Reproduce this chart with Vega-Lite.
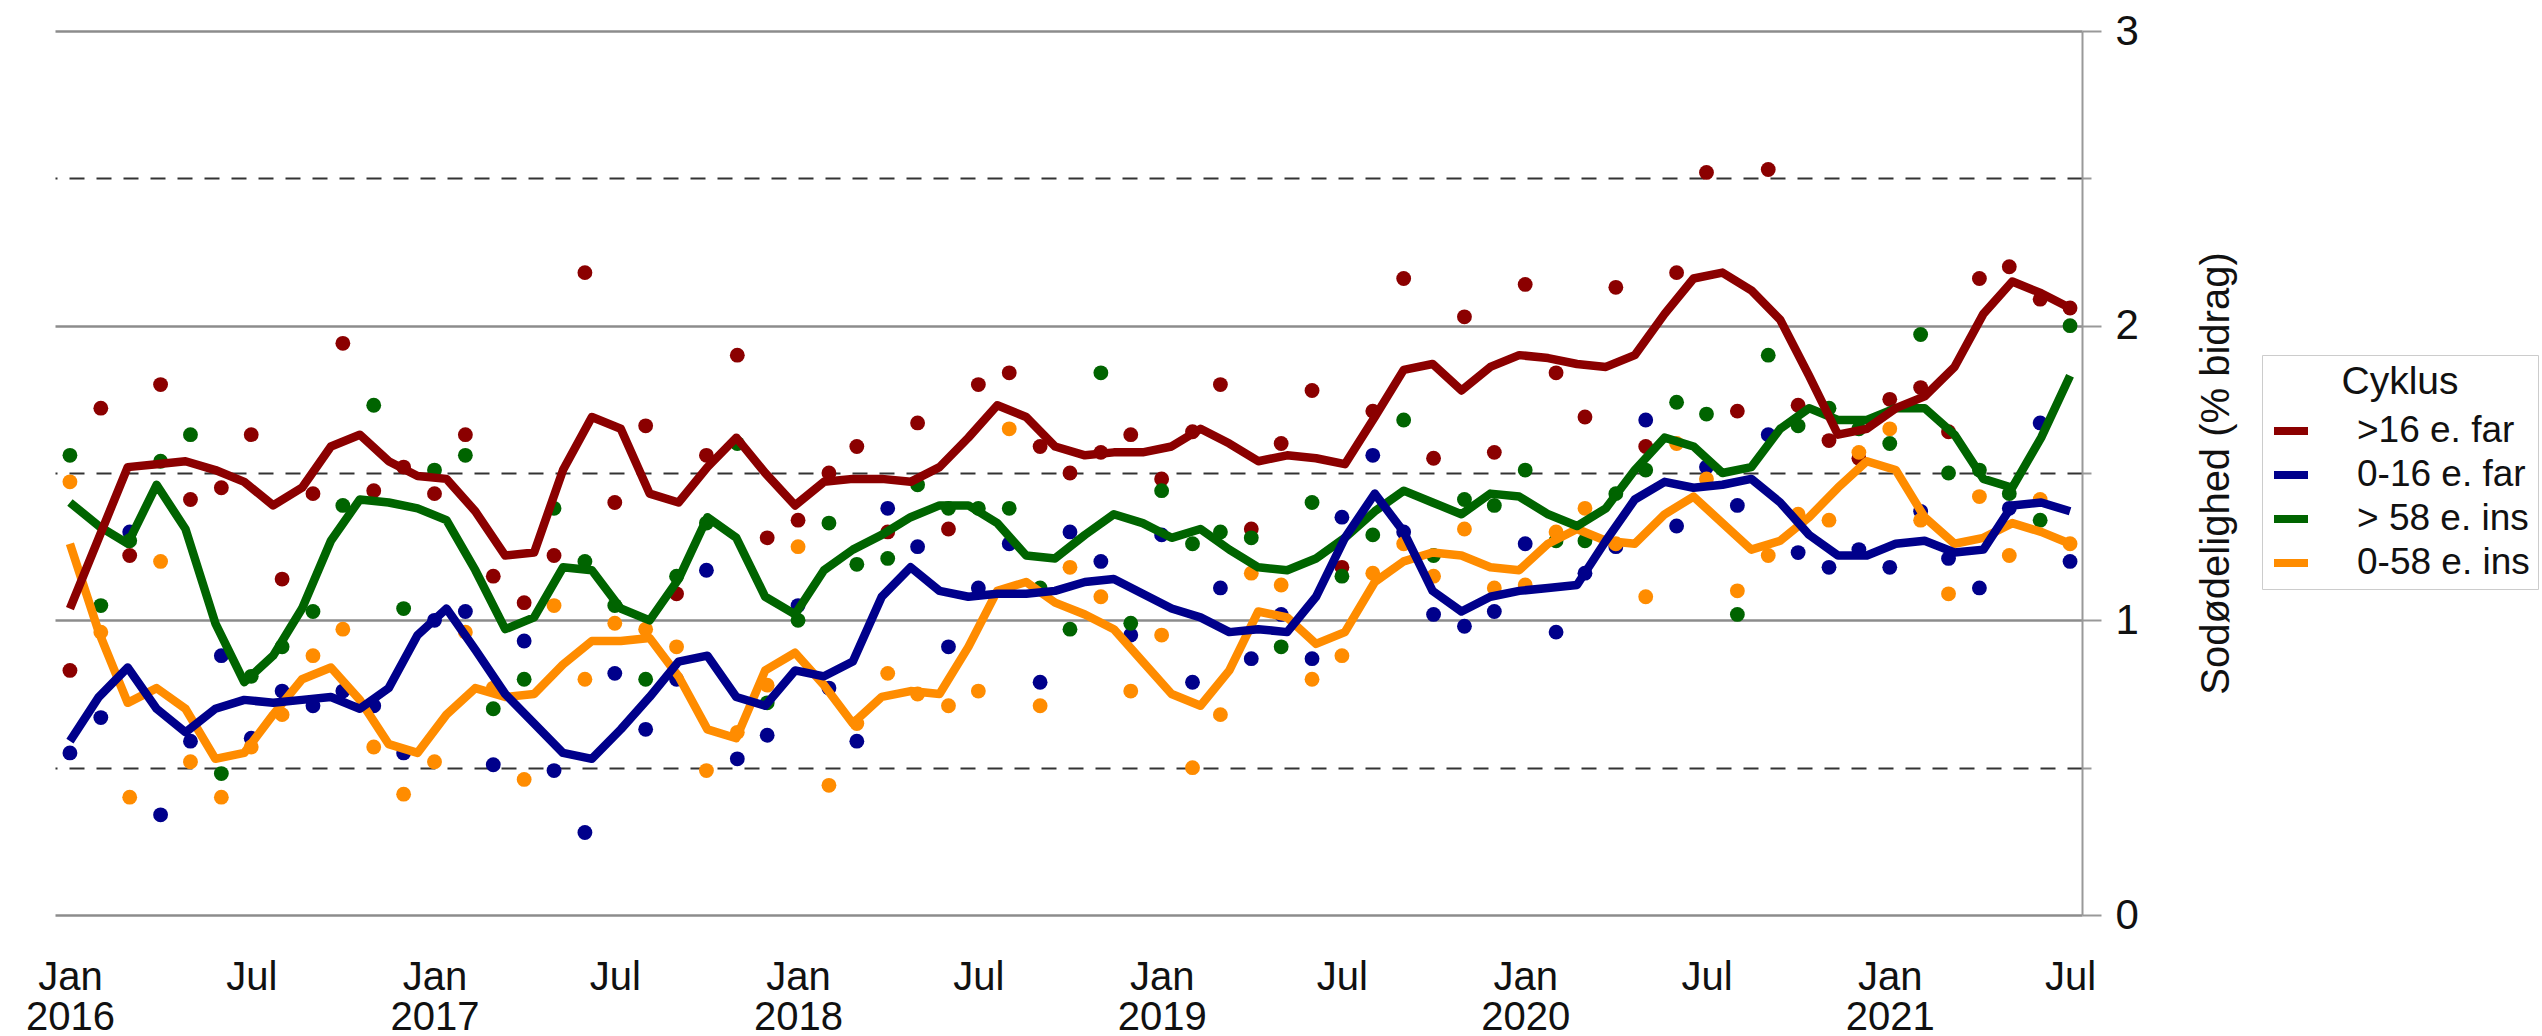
{
"$schema":"https://vega.github.io/schema/vega-lite/v6.json",
"width":2027,"height":884,
"autosize":{"type":"none"},
"padding":{"left":55,"top":31,"right":460,"bottom":121},
"background":"white",
"config":{"view":{"stroke":null},"font":"Liberation Sans"},
"resolve":{"scale":{"color":"independent"}},
"datasets":{
"pts":[
{"d":"2016-01-01","s":">16 e. far","v":0.83},{"d":"2016-02-01","s":">16 e. far","v":1.72},{"d":"2016-03-01","s":">16 e. far","v":1.22},{"d":"2016-04-01","s":">16 e. far","v":1.80},{"d":"2016-05-01","s":">16 e. far","v":1.41},{"d":"2016-06-01","s":">16 e. far","v":1.45},{"d":"2016-07-01","s":">16 e. far","v":1.63},{"d":"2016-08-01","s":">16 e. far","v":1.14},{"d":"2016-09-01","s":">16 e. far","v":1.43},{"d":"2016-10-01","s":">16 e. far","v":1.94},{"d":"2016-11-01","s":">16 e. far","v":1.44},{"d":"2016-12-01","s":">16 e. far","v":1.52},
{"d":"2017-01-01","s":">16 e. far","v":1.43},{"d":"2017-02-01","s":">16 e. far","v":1.63},{"d":"2017-03-01","s":">16 e. far","v":1.15},{"d":"2017-04-01","s":">16 e. far","v":1.06},{"d":"2017-05-01","s":">16 e. far","v":1.22},{"d":"2017-06-01","s":">16 e. far","v":2.18},{"d":"2017-07-01","s":">16 e. far","v":1.40},{"d":"2017-08-01","s":">16 e. far","v":1.66},{"d":"2017-09-01","s":">16 e. far","v":1.09},{"d":"2017-10-01","s":">16 e. far","v":1.56},{"d":"2017-11-01","s":">16 e. far","v":1.90},{"d":"2017-12-01","s":">16 e. far","v":1.28},
{"d":"2018-01-01","s":">16 e. far","v":1.34},{"d":"2018-02-01","s":">16 e. far","v":1.50},{"d":"2018-03-01","s":">16 e. far","v":1.59},{"d":"2018-04-01","s":">16 e. far","v":1.30},{"d":"2018-05-01","s":">16 e. far","v":1.67},{"d":"2018-06-01","s":">16 e. far","v":1.31},{"d":"2018-07-01","s":">16 e. far","v":1.80},{"d":"2018-08-01","s":">16 e. far","v":1.84},{"d":"2018-09-01","s":">16 e. far","v":1.59},{"d":"2018-10-01","s":">16 e. far","v":1.50},{"d":"2018-11-01","s":">16 e. far","v":1.57},{"d":"2018-12-01","s":">16 e. far","v":1.63},
{"d":"2019-01-01","s":">16 e. far","v":1.48},{"d":"2019-02-01","s":">16 e. far","v":1.64},{"d":"2019-03-01","s":">16 e. far","v":1.80},{"d":"2019-04-01","s":">16 e. far","v":1.31},{"d":"2019-05-01","s":">16 e. far","v":1.60},{"d":"2019-06-01","s":">16 e. far","v":1.78},{"d":"2019-07-01","s":">16 e. far","v":1.18},{"d":"2019-08-01","s":">16 e. far","v":1.71},{"d":"2019-09-01","s":">16 e. far","v":2.16},{"d":"2019-10-01","s":">16 e. far","v":1.55},{"d":"2019-11-01","s":">16 e. far","v":2.03},{"d":"2019-12-01","s":">16 e. far","v":1.57},
{"d":"2020-01-01","s":">16 e. far","v":2.14},{"d":"2020-02-01","s":">16 e. far","v":1.84},{"d":"2020-03-01","s":">16 e. far","v":1.69},{"d":"2020-04-01","s":">16 e. far","v":2.13},{"d":"2020-05-01","s":">16 e. far","v":1.59},{"d":"2020-06-01","s":">16 e. far","v":2.18},{"d":"2020-07-01","s":">16 e. far","v":2.52},{"d":"2020-08-01","s":">16 e. far","v":1.71},{"d":"2020-09-01","s":">16 e. far","v":2.53},{"d":"2020-10-01","s":">16 e. far","v":1.73},{"d":"2020-11-01","s":">16 e. far","v":1.61},{"d":"2020-12-01","s":">16 e. far","v":1.55},
{"d":"2021-01-01","s":">16 e. far","v":1.75},{"d":"2021-02-01","s":">16 e. far","v":1.79},{"d":"2021-03-01","s":">16 e. far","v":1.64},{"d":"2021-04-01","s":">16 e. far","v":2.16},{"d":"2021-05-01","s":">16 e. far","v":2.20},{"d":"2021-06-01","s":">16 e. far","v":2.09},{"d":"2021-07-01","s":">16 e. far","v":2.06},

{"d":"2016-01-01","s":"0-16 e. far","v":0.55},{"d":"2016-02-01","s":"0-16 e. far","v":0.67},{"d":"2016-03-01","s":"0-16 e. far","v":1.30},{"d":"2016-04-01","s":"0-16 e. far","v":0.34},{"d":"2016-05-01","s":"0-16 e. far","v":0.59},{"d":"2016-06-01","s":"0-16 e. far","v":0.88},{"d":"2016-07-01","s":"0-16 e. far","v":0.60},{"d":"2016-08-01","s":"0-16 e. far","v":0.76},{"d":"2016-09-01","s":"0-16 e. far","v":0.71},{"d":"2016-10-01","s":"0-16 e. far","v":0.76},{"d":"2016-11-01","s":"0-16 e. far","v":0.71},{"d":"2016-12-01","s":"0-16 e. far","v":0.55},
{"d":"2017-01-01","s":"0-16 e. far","v":1.00},{"d":"2017-02-01","s":"0-16 e. far","v":1.03},{"d":"2017-03-01","s":"0-16 e. far","v":0.51},{"d":"2017-04-01","s":"0-16 e. far","v":0.93},{"d":"2017-05-01","s":"0-16 e. far","v":0.49},{"d":"2017-06-01","s":"0-16 e. far","v":0.28},{"d":"2017-07-01","s":"0-16 e. far","v":0.82},{"d":"2017-08-01","s":"0-16 e. far","v":0.63},{"d":"2017-09-01","s":"0-16 e. far","v":0.80},{"d":"2017-10-01","s":"0-16 e. far","v":1.17},{"d":"2017-11-01","s":"0-16 e. far","v":0.53},{"d":"2017-12-01","s":"0-16 e. far","v":0.61},
{"d":"2018-01-01","s":"0-16 e. far","v":1.05},{"d":"2018-02-01","s":"0-16 e. far","v":0.77},{"d":"2018-03-01","s":"0-16 e. far","v":0.59},{"d":"2018-04-01","s":"0-16 e. far","v":1.38},{"d":"2018-05-01","s":"0-16 e. far","v":1.25},{"d":"2018-06-01","s":"0-16 e. far","v":0.91},{"d":"2018-07-01","s":"0-16 e. far","v":1.11},{"d":"2018-08-01","s":"0-16 e. far","v":1.26},{"d":"2018-09-01","s":"0-16 e. far","v":0.79},{"d":"2018-10-01","s":"0-16 e. far","v":1.30},{"d":"2018-11-01","s":"0-16 e. far","v":1.20},{"d":"2018-12-01","s":"0-16 e. far","v":0.95},
{"d":"2019-01-01","s":"0-16 e. far","v":1.29},{"d":"2019-02-01","s":"0-16 e. far","v":0.79},{"d":"2019-03-01","s":"0-16 e. far","v":1.11},{"d":"2019-04-01","s":"0-16 e. far","v":0.87},{"d":"2019-05-01","s":"0-16 e. far","v":1.02},{"d":"2019-06-01","s":"0-16 e. far","v":0.87},{"d":"2019-07-01","s":"0-16 e. far","v":1.35},{"d":"2019-08-01","s":"0-16 e. far","v":1.56},{"d":"2019-09-01","s":"0-16 e. far","v":1.30},{"d":"2019-10-01","s":"0-16 e. far","v":1.02},{"d":"2019-11-01","s":"0-16 e. far","v":0.98},{"d":"2019-12-01","s":"0-16 e. far","v":1.03},
{"d":"2020-01-01","s":"0-16 e. far","v":1.26},{"d":"2020-02-01","s":"0-16 e. far","v":0.96},{"d":"2020-03-01","s":"0-16 e. far","v":1.16},{"d":"2020-04-01","s":"0-16 e. far","v":1.25},{"d":"2020-05-01","s":"0-16 e. far","v":1.68},{"d":"2020-06-01","s":"0-16 e. far","v":1.32},{"d":"2020-07-01","s":"0-16 e. far","v":1.52},{"d":"2020-08-01","s":"0-16 e. far","v":1.39},{"d":"2020-09-01","s":"0-16 e. far","v":1.63},{"d":"2020-10-01","s":"0-16 e. far","v":1.23},{"d":"2020-11-01","s":"0-16 e. far","v":1.18},{"d":"2020-12-01","s":"0-16 e. far","v":1.24},
{"d":"2021-01-01","s":"0-16 e. far","v":1.18},{"d":"2021-02-01","s":"0-16 e. far","v":1.37},{"d":"2021-03-01","s":"0-16 e. far","v":1.21},{"d":"2021-04-01","s":"0-16 e. far","v":1.11},{"d":"2021-05-01","s":"0-16 e. far","v":1.38},{"d":"2021-06-01","s":"0-16 e. far","v":1.67},{"d":"2021-07-01","s":"0-16 e. far","v":1.20},

{"d":"2016-01-01","s":"> 58 e. ins","v":1.56},{"d":"2016-02-01","s":"> 58 e. ins","v":1.05},{"d":"2016-03-01","s":"> 58 e. ins","v":1.27},{"d":"2016-04-01","s":"> 58 e. ins","v":1.54},{"d":"2016-05-01","s":"> 58 e. ins","v":1.63},{"d":"2016-06-01","s":"> 58 e. ins","v":0.48},{"d":"2016-07-01","s":"> 58 e. ins","v":0.81},{"d":"2016-08-01","s":"> 58 e. ins","v":0.91},{"d":"2016-09-01","s":"> 58 e. ins","v":1.03},{"d":"2016-10-01","s":"> 58 e. ins","v":1.39},{"d":"2016-11-01","s":"> 58 e. ins","v":1.73},{"d":"2016-12-01","s":"> 58 e. ins","v":1.04},
{"d":"2017-01-01","s":"> 58 e. ins","v":1.51},{"d":"2017-02-01","s":"> 58 e. ins","v":1.56},{"d":"2017-03-01","s":"> 58 e. ins","v":0.70},{"d":"2017-04-01","s":"> 58 e. ins","v":0.80},{"d":"2017-05-01","s":"> 58 e. ins","v":1.38},{"d":"2017-06-01","s":"> 58 e. ins","v":1.20},{"d":"2017-07-01","s":"> 58 e. ins","v":1.05},{"d":"2017-08-01","s":"> 58 e. ins","v":0.80},{"d":"2017-09-01","s":"> 58 e. ins","v":1.15},{"d":"2017-10-01","s":"> 58 e. ins","v":1.33},{"d":"2017-11-01","s":"> 58 e. ins","v":1.60},{"d":"2017-12-01","s":"> 58 e. ins","v":0.72},
{"d":"2018-01-01","s":"> 58 e. ins","v":1.00},{"d":"2018-02-01","s":"> 58 e. ins","v":1.33},{"d":"2018-03-01","s":"> 58 e. ins","v":1.19},{"d":"2018-04-01","s":"> 58 e. ins","v":1.21},{"d":"2018-05-01","s":"> 58 e. ins","v":1.46},{"d":"2018-06-01","s":"> 58 e. ins","v":1.38},{"d":"2018-07-01","s":"> 58 e. ins","v":1.38},{"d":"2018-08-01","s":"> 58 e. ins","v":1.38},{"d":"2018-09-01","s":"> 58 e. ins","v":1.11},{"d":"2018-10-01","s":"> 58 e. ins","v":0.97},{"d":"2018-11-01","s":"> 58 e. ins","v":1.84},{"d":"2018-12-01","s":"> 58 e. ins","v":0.99},
{"d":"2019-01-01","s":"> 58 e. ins","v":1.44},{"d":"2019-02-01","s":"> 58 e. ins","v":1.26},{"d":"2019-03-01","s":"> 58 e. ins","v":1.30},{"d":"2019-04-01","s":"> 58 e. ins","v":1.28},{"d":"2019-05-01","s":"> 58 e. ins","v":0.91},{"d":"2019-06-01","s":"> 58 e. ins","v":1.40},{"d":"2019-07-01","s":"> 58 e. ins","v":1.15},{"d":"2019-08-01","s":"> 58 e. ins","v":1.29},{"d":"2019-09-01","s":"> 58 e. ins","v":1.68},{"d":"2019-10-01","s":"> 58 e. ins","v":1.22},{"d":"2019-11-01","s":"> 58 e. ins","v":1.41},{"d":"2019-12-01","s":"> 58 e. ins","v":1.39},
{"d":"2020-01-01","s":"> 58 e. ins","v":1.51},{"d":"2020-02-01","s":"> 58 e. ins","v":1.27},{"d":"2020-03-01","s":"> 58 e. ins","v":1.27},{"d":"2020-04-01","s":"> 58 e. ins","v":1.43},{"d":"2020-05-01","s":"> 58 e. ins","v":1.51},{"d":"2020-06-01","s":"> 58 e. ins","v":1.74},{"d":"2020-07-01","s":"> 58 e. ins","v":1.70},{"d":"2020-08-01","s":"> 58 e. ins","v":1.02},{"d":"2020-09-01","s":"> 58 e. ins","v":1.90},{"d":"2020-10-01","s":"> 58 e. ins","v":1.66},{"d":"2020-11-01","s":"> 58 e. ins","v":1.72},{"d":"2020-12-01","s":"> 58 e. ins","v":1.65},
{"d":"2021-01-01","s":"> 58 e. ins","v":1.60},{"d":"2021-02-01","s":"> 58 e. ins","v":1.97},{"d":"2021-03-01","s":"> 58 e. ins","v":1.50},{"d":"2021-04-01","s":"> 58 e. ins","v":1.51},{"d":"2021-05-01","s":"> 58 e. ins","v":1.43},{"d":"2021-06-01","s":"> 58 e. ins","v":1.34},{"d":"2021-07-01","s":"> 58 e. ins","v":2.00},

{"d":"2016-01-01","s":"0-58 e. ins","v":1.47},{"d":"2016-02-01","s":"0-58 e. ins","v":0.96},{"d":"2016-03-01","s":"0-58 e. ins","v":0.40},{"d":"2016-04-01","s":"0-58 e. ins","v":1.20},{"d":"2016-05-01","s":"0-58 e. ins","v":0.52},{"d":"2016-06-01","s":"0-58 e. ins","v":0.40},{"d":"2016-07-01","s":"0-58 e. ins","v":0.57},{"d":"2016-08-01","s":"0-58 e. ins","v":0.68},{"d":"2016-09-01","s":"0-58 e. ins","v":0.88},{"d":"2016-10-01","s":"0-58 e. ins","v":0.97},{"d":"2016-11-01","s":"0-58 e. ins","v":0.57},{"d":"2016-12-01","s":"0-58 e. ins","v":0.41},
{"d":"2017-01-01","s":"0-58 e. ins","v":0.52},{"d":"2017-02-01","s":"0-58 e. ins","v":0.96},{"d":"2017-03-01","s":"0-58 e. ins","v":0.77},{"d":"2017-04-01","s":"0-58 e. ins","v":0.46},{"d":"2017-05-01","s":"0-58 e. ins","v":1.05},{"d":"2017-06-01","s":"0-58 e. ins","v":0.80},{"d":"2017-07-01","s":"0-58 e. ins","v":0.99},{"d":"2017-08-01","s":"0-58 e. ins","v":0.97},{"d":"2017-09-01","s":"0-58 e. ins","v":0.91},{"d":"2017-10-01","s":"0-58 e. ins","v":0.49},{"d":"2017-11-01","s":"0-58 e. ins","v":0.62},{"d":"2017-12-01","s":"0-58 e. ins","v":0.78},
{"d":"2018-01-01","s":"0-58 e. ins","v":1.25},{"d":"2018-02-01","s":"0-58 e. ins","v":0.44},{"d":"2018-03-01","s":"0-58 e. ins","v":0.65},{"d":"2018-04-01","s":"0-58 e. ins","v":0.82},{"d":"2018-05-01","s":"0-58 e. ins","v":0.75},{"d":"2018-06-01","s":"0-58 e. ins","v":0.71},{"d":"2018-07-01","s":"0-58 e. ins","v":0.76},{"d":"2018-08-01","s":"0-58 e. ins","v":1.65},{"d":"2018-09-01","s":"0-58 e. ins","v":0.71},{"d":"2018-10-01","s":"0-58 e. ins","v":1.18},{"d":"2018-11-01","s":"0-58 e. ins","v":1.08},{"d":"2018-12-01","s":"0-58 e. ins","v":0.76},
{"d":"2019-01-01","s":"0-58 e. ins","v":0.95},{"d":"2019-02-01","s":"0-58 e. ins","v":0.50},{"d":"2019-03-01","s":"0-58 e. ins","v":0.68},{"d":"2019-04-01","s":"0-58 e. ins","v":1.16},{"d":"2019-05-01","s":"0-58 e. ins","v":1.12},{"d":"2019-06-01","s":"0-58 e. ins","v":0.80},{"d":"2019-07-01","s":"0-58 e. ins","v":0.88},{"d":"2019-08-01","s":"0-58 e. ins","v":1.16},{"d":"2019-09-01","s":"0-58 e. ins","v":1.26},{"d":"2019-10-01","s":"0-58 e. ins","v":1.15},{"d":"2019-11-01","s":"0-58 e. ins","v":1.31},{"d":"2019-12-01","s":"0-58 e. ins","v":1.11},
{"d":"2020-01-01","s":"0-58 e. ins","v":1.12},{"d":"2020-02-01","s":"0-58 e. ins","v":1.30},{"d":"2020-03-01","s":"0-58 e. ins","v":1.38},{"d":"2020-04-01","s":"0-58 e. ins","v":1.26},{"d":"2020-05-01","s":"0-58 e. ins","v":1.08},{"d":"2020-06-01","s":"0-58 e. ins","v":1.60},{"d":"2020-07-01","s":"0-58 e. ins","v":1.48},{"d":"2020-08-01","s":"0-58 e. ins","v":1.10},{"d":"2020-09-01","s":"0-58 e. ins","v":1.22},{"d":"2020-10-01","s":"0-58 e. ins","v":1.36},{"d":"2020-11-01","s":"0-58 e. ins","v":1.34},{"d":"2020-12-01","s":"0-58 e. ins","v":1.57},
{"d":"2021-01-01","s":"0-58 e. ins","v":1.65},{"d":"2021-02-01","s":"0-58 e. ins","v":1.34},{"d":"2021-03-01","s":"0-58 e. ins","v":1.09},{"d":"2021-04-01","s":"0-58 e. ins","v":1.42},{"d":"2021-05-01","s":"0-58 e. ins","v":1.22},{"d":"2021-06-01","s":"0-58 e. ins","v":1.41},{"d":"2021-07-01","s":"0-58 e. ins","v":1.26}
],
"ln":[
{"d":"2016-01-01","s":"0-58 e. ins","v":1.26},{"d":"2016-01-30","s":"0-58 e. ins","v":0.96},{"d":"2016-02-28","s":"0-58 e. ins","v":0.72},{"d":"2016-03-28","s":"0-58 e. ins","v":0.77},{"d":"2016-04-26","s":"0-58 e. ins","v":0.70},{"d":"2016-05-26","s":"0-58 e. ins","v":0.53},{"d":"2016-06-24","s":"0-58 e. ins","v":0.55},{"d":"2016-07-23","s":"0-58 e. ins","v":0.68},{"d":"2016-08-21","s":"0-58 e. ins","v":0.80},{"d":"2016-09-19","s":"0-58 e. ins","v":0.84},
{"d":"2016-10-18","s":"0-58 e. ins","v":0.73},{"d":"2016-11-16","s":"0-58 e. ins","v":0.58},{"d":"2016-12-15","s":"0-58 e. ins","v":0.55},{"d":"2017-01-13","s":"0-58 e. ins","v":0.68},{"d":"2017-02-11","s":"0-58 e. ins","v":0.77},{"d":"2017-03-13","s":"0-58 e. ins","v":0.74},{"d":"2017-04-11","s":"0-58 e. ins","v":0.75},{"d":"2017-05-10","s":"0-58 e. ins","v":0.85},{"d":"2017-06-08","s":"0-58 e. ins","v":0.93},{"d":"2017-07-07","s":"0-58 e. ins","v":0.93},
{"d":"2017-08-05","s":"0-58 e. ins","v":0.94},{"d":"2017-09-03","s":"0-58 e. ins","v":0.81},{"d":"2017-10-02","s":"0-58 e. ins","v":0.63},{"d":"2017-10-31","s":"0-58 e. ins","v":0.60},{"d":"2017-11-29","s":"0-58 e. ins","v":0.83},{"d":"2017-12-29","s":"0-58 e. ins","v":0.89},{"d":"2018-01-27","s":"0-58 e. ins","v":0.78},{"d":"2018-02-25","s":"0-58 e. ins","v":0.65},{"d":"2018-03-26","s":"0-58 e. ins","v":0.74},{"d":"2018-04-24","s":"0-58 e. ins","v":0.76},
{"d":"2018-05-23","s":"0-58 e. ins","v":0.75},{"d":"2018-06-21","s":"0-58 e. ins","v":0.91},{"d":"2018-07-20","s":"0-58 e. ins","v":1.10},{"d":"2018-08-18","s":"0-58 e. ins","v":1.13},{"d":"2018-09-16","s":"0-58 e. ins","v":1.06},{"d":"2018-10-16","s":"0-58 e. ins","v":1.02},{"d":"2018-11-14","s":"0-58 e. ins","v":0.97},{"d":"2018-12-13","s":"0-58 e. ins","v":0.86},{"d":"2019-01-11","s":"0-58 e. ins","v":0.75},{"d":"2019-02-09","s":"0-58 e. ins","v":0.71},
{"d":"2019-03-10","s":"0-58 e. ins","v":0.83},{"d":"2019-04-08","s":"0-58 e. ins","v":1.03},{"d":"2019-05-07","s":"0-58 e. ins","v":1.01},{"d":"2019-06-05","s":"0-58 e. ins","v":0.92},{"d":"2019-07-04","s":"0-58 e. ins","v":0.96},{"d":"2019-08-03","s":"0-58 e. ins","v":1.13},{"d":"2019-09-01","s":"0-58 e. ins","v":1.20},{"d":"2019-09-30","s":"0-58 e. ins","v":1.23},{"d":"2019-10-29","s":"0-58 e. ins","v":1.22},{"d":"2019-11-27","s":"0-58 e. ins","v":1.18},
{"d":"2019-12-26","s":"0-58 e. ins","v":1.17},{"d":"2020-01-24","s":"0-58 e. ins","v":1.26},{"d":"2020-02-22","s":"0-58 e. ins","v":1.31},{"d":"2020-03-22","s":"0-58 e. ins","v":1.27},{"d":"2020-04-20","s":"0-58 e. ins","v":1.26},{"d":"2020-05-20","s":"0-58 e. ins","v":1.36},{"d":"2020-06-18","s":"0-58 e. ins","v":1.42},{"d":"2020-07-17","s":"0-58 e. ins","v":1.33},{"d":"2020-08-15","s":"0-58 e. ins","v":1.24},{"d":"2020-09-13","s":"0-58 e. ins","v":1.27},
{"d":"2020-10-12","s":"0-58 e. ins","v":1.35},{"d":"2020-11-10","s":"0-58 e. ins","v":1.45},{"d":"2020-12-09","s":"0-58 e. ins","v":1.54},{"d":"2021-01-07","s":"0-58 e. ins","v":1.51},{"d":"2021-02-05","s":"0-58 e. ins","v":1.35},{"d":"2021-03-07","s":"0-58 e. ins","v":1.26},{"d":"2021-04-05","s":"0-58 e. ins","v":1.28},{"d":"2021-05-04","s":"0-58 e. ins","v":1.33},{"d":"2021-06-02","s":"0-58 e. ins","v":1.30},{"d":"2021-07-01","s":"0-58 e. ins","v":1.26},

{"d":"2016-01-01","s":"> 58 e. ins","v":1.40},{"d":"2016-01-30","s":"> 58 e. ins","v":1.32},{"d":"2016-02-28","s":"> 58 e. ins","v":1.26},{"d":"2016-03-28","s":"> 58 e. ins","v":1.46},{"d":"2016-04-26","s":"> 58 e. ins","v":1.31},{"d":"2016-05-26","s":"> 58 e. ins","v":0.99},{"d":"2016-06-24","s":"> 58 e. ins","v":0.79},{"d":"2016-07-23","s":"> 58 e. ins","v":0.88},{"d":"2016-08-21","s":"> 58 e. ins","v":1.04},{"d":"2016-09-19","s":"> 58 e. ins","v":1.27},
{"d":"2016-10-18","s":"> 58 e. ins","v":1.41},{"d":"2016-11-16","s":"> 58 e. ins","v":1.40},{"d":"2016-12-15","s":"> 58 e. ins","v":1.38},{"d":"2017-01-13","s":"> 58 e. ins","v":1.34},{"d":"2017-02-11","s":"> 58 e. ins","v":1.17},{"d":"2017-03-13","s":"> 58 e. ins","v":0.97},{"d":"2017-04-11","s":"> 58 e. ins","v":1.01},{"d":"2017-05-10","s":"> 58 e. ins","v":1.18},{"d":"2017-06-08","s":"> 58 e. ins","v":1.17},{"d":"2017-07-07","s":"> 58 e. ins","v":1.04},
{"d":"2017-08-05","s":"> 58 e. ins","v":1.00},{"d":"2017-09-03","s":"> 58 e. ins","v":1.14},{"d":"2017-10-02","s":"> 58 e. ins","v":1.35},{"d":"2017-10-31","s":"> 58 e. ins","v":1.28},{"d":"2017-11-29","s":"> 58 e. ins","v":1.08},{"d":"2017-12-29","s":"> 58 e. ins","v":1.02},{"d":"2018-01-27","s":"> 58 e. ins","v":1.17},{"d":"2018-02-25","s":"> 58 e. ins","v":1.24},{"d":"2018-03-26","s":"> 58 e. ins","v":1.29},{"d":"2018-04-24","s":"> 58 e. ins","v":1.35},
{"d":"2018-05-23","s":"> 58 e. ins","v":1.39},{"d":"2018-06-21","s":"> 58 e. ins","v":1.39},{"d":"2018-07-20","s":"> 58 e. ins","v":1.33},{"d":"2018-08-18","s":"> 58 e. ins","v":1.22},{"d":"2018-09-16","s":"> 58 e. ins","v":1.21},{"d":"2018-10-16","s":"> 58 e. ins","v":1.29},{"d":"2018-11-14","s":"> 58 e. ins","v":1.36},{"d":"2018-12-13","s":"> 58 e. ins","v":1.33},{"d":"2019-01-11","s":"> 58 e. ins","v":1.28},{"d":"2019-02-09","s":"> 58 e. ins","v":1.31},
{"d":"2019-03-10","s":"> 58 e. ins","v":1.24},{"d":"2019-04-08","s":"> 58 e. ins","v":1.18},{"d":"2019-05-07","s":"> 58 e. ins","v":1.17},{"d":"2019-06-05","s":"> 58 e. ins","v":1.21},{"d":"2019-07-04","s":"> 58 e. ins","v":1.28},{"d":"2019-08-03","s":"> 58 e. ins","v":1.37},{"d":"2019-09-01","s":"> 58 e. ins","v":1.44},{"d":"2019-09-30","s":"> 58 e. ins","v":1.40},{"d":"2019-10-29","s":"> 58 e. ins","v":1.36},{"d":"2019-11-27","s":"> 58 e. ins","v":1.43},
{"d":"2019-12-26","s":"> 58 e. ins","v":1.42},{"d":"2020-01-24","s":"> 58 e. ins","v":1.36},{"d":"2020-02-22","s":"> 58 e. ins","v":1.32},{"d":"2020-03-22","s":"> 58 e. ins","v":1.38},{"d":"2020-04-20","s":"> 58 e. ins","v":1.51},{"d":"2020-05-20","s":"> 58 e. ins","v":1.62},{"d":"2020-06-18","s":"> 58 e. ins","v":1.59},{"d":"2020-07-17","s":"> 58 e. ins","v":1.50},{"d":"2020-08-15","s":"> 58 e. ins","v":1.52},{"d":"2020-09-13","s":"> 58 e. ins","v":1.65},
{"d":"2020-10-12","s":"> 58 e. ins","v":1.72},{"d":"2020-11-10","s":"> 58 e. ins","v":1.68},{"d":"2020-12-09","s":"> 58 e. ins","v":1.68},{"d":"2021-01-07","s":"> 58 e. ins","v":1.72},{"d":"2021-02-05","s":"> 58 e. ins","v":1.72},{"d":"2021-03-07","s":"> 58 e. ins","v":1.63},{"d":"2021-04-05","s":"> 58 e. ins","v":1.48},{"d":"2021-05-04","s":"> 58 e. ins","v":1.45},{"d":"2021-06-02","s":"> 58 e. ins","v":1.62},{"d":"2021-07-01","s":"> 58 e. ins","v":1.83},

{"d":"2016-01-01","s":"0-16 e. far","v":0.59},{"d":"2016-01-30","s":"0-16 e. far","v":0.74},{"d":"2016-02-28","s":"0-16 e. far","v":0.84},{"d":"2016-03-28","s":"0-16 e. far","v":0.70},{"d":"2016-04-26","s":"0-16 e. far","v":0.62},{"d":"2016-05-26","s":"0-16 e. far","v":0.70},{"d":"2016-06-24","s":"0-16 e. far","v":0.73},{"d":"2016-07-23","s":"0-16 e. far","v":0.72},{"d":"2016-08-21","s":"0-16 e. far","v":0.73},{"d":"2016-09-19","s":"0-16 e. far","v":0.74},
{"d":"2016-10-18","s":"0-16 e. far","v":0.70},{"d":"2016-11-16","s":"0-16 e. far","v":0.77},{"d":"2016-12-15","s":"0-16 e. far","v":0.95},{"d":"2017-01-13","s":"0-16 e. far","v":1.04},{"d":"2017-02-11","s":"0-16 e. far","v":0.90},{"d":"2017-03-13","s":"0-16 e. far","v":0.75},{"d":"2017-04-11","s":"0-16 e. far","v":0.65},{"d":"2017-05-10","s":"0-16 e. far","v":0.55},{"d":"2017-06-08","s":"0-16 e. far","v":0.53},{"d":"2017-07-07","s":"0-16 e. far","v":0.63},
{"d":"2017-08-05","s":"0-16 e. far","v":0.74},{"d":"2017-09-03","s":"0-16 e. far","v":0.86},{"d":"2017-10-02","s":"0-16 e. far","v":0.88},{"d":"2017-10-31","s":"0-16 e. far","v":0.74},{"d":"2017-11-29","s":"0-16 e. far","v":0.71},{"d":"2017-12-29","s":"0-16 e. far","v":0.83},{"d":"2018-01-27","s":"0-16 e. far","v":0.81},{"d":"2018-02-25","s":"0-16 e. far","v":0.86},{"d":"2018-03-26","s":"0-16 e. far","v":1.08},{"d":"2018-04-24","s":"0-16 e. far","v":1.18},
{"d":"2018-05-23","s":"0-16 e. far","v":1.10},{"d":"2018-06-21","s":"0-16 e. far","v":1.08},{"d":"2018-07-20","s":"0-16 e. far","v":1.09},{"d":"2018-08-18","s":"0-16 e. far","v":1.09},{"d":"2018-09-16","s":"0-16 e. far","v":1.10},{"d":"2018-10-16","s":"0-16 e. far","v":1.13},{"d":"2018-11-14","s":"0-16 e. far","v":1.14},{"d":"2018-12-13","s":"0-16 e. far","v":1.09},{"d":"2019-01-11","s":"0-16 e. far","v":1.04},{"d":"2019-02-09","s":"0-16 e. far","v":1.01},
{"d":"2019-03-10","s":"0-16 e. far","v":0.96},{"d":"2019-04-08","s":"0-16 e. far","v":0.97},{"d":"2019-05-07","s":"0-16 e. far","v":0.96},{"d":"2019-06-05","s":"0-16 e. far","v":1.08},{"d":"2019-07-04","s":"0-16 e. far","v":1.28},{"d":"2019-08-03","s":"0-16 e. far","v":1.43},{"d":"2019-09-01","s":"0-16 e. far","v":1.30},{"d":"2019-09-30","s":"0-16 e. far","v":1.10},{"d":"2019-10-29","s":"0-16 e. far","v":1.03},{"d":"2019-11-27","s":"0-16 e. far","v":1.08},
{"d":"2019-12-26","s":"0-16 e. far","v":1.10},{"d":"2020-01-24","s":"0-16 e. far","v":1.11},{"d":"2020-02-22","s":"0-16 e. far","v":1.12},{"d":"2020-03-22","s":"0-16 e. far","v":1.27},{"d":"2020-04-20","s":"0-16 e. far","v":1.41},{"d":"2020-05-20","s":"0-16 e. far","v":1.47},{"d":"2020-06-18","s":"0-16 e. far","v":1.45},{"d":"2020-07-17","s":"0-16 e. far","v":1.46},{"d":"2020-08-15","s":"0-16 e. far","v":1.48},{"d":"2020-09-13","s":"0-16 e. far","v":1.40},
{"d":"2020-10-12","s":"0-16 e. far","v":1.29},{"d":"2020-11-10","s":"0-16 e. far","v":1.22},{"d":"2020-12-09","s":"0-16 e. far","v":1.22},{"d":"2021-01-07","s":"0-16 e. far","v":1.26},{"d":"2021-02-05","s":"0-16 e. far","v":1.27},{"d":"2021-03-07","s":"0-16 e. far","v":1.23},{"d":"2021-04-05","s":"0-16 e. far","v":1.24},{"d":"2021-05-04","s":"0-16 e. far","v":1.39},{"d":"2021-06-02","s":"0-16 e. far","v":1.40},{"d":"2021-07-01","s":"0-16 e. far","v":1.37},

{"d":"2016-01-01","s":">16 e. far","v":1.04},{"d":"2016-01-30","s":">16 e. far","v":1.28},{"d":"2016-02-28","s":">16 e. far","v":1.52},{"d":"2016-03-28","s":">16 e. far","v":1.53},{"d":"2016-04-26","s":">16 e. far","v":1.54},{"d":"2016-05-26","s":">16 e. far","v":1.51},{"d":"2016-06-24","s":">16 e. far","v":1.47},{"d":"2016-07-23","s":">16 e. far","v":1.39},{"d":"2016-08-21","s":">16 e. far","v":1.45},{"d":"2016-09-19","s":">16 e. far","v":1.59},
{"d":"2016-10-18","s":">16 e. far","v":1.63},{"d":"2016-11-16","s":">16 e. far","v":1.54},{"d":"2016-12-15","s":">16 e. far","v":1.49},{"d":"2017-01-13","s":">16 e. far","v":1.48},{"d":"2017-02-11","s":">16 e. far","v":1.37},{"d":"2017-03-13","s":">16 e. far","v":1.22},{"d":"2017-04-11","s":">16 e. far","v":1.23},{"d":"2017-05-10","s":">16 e. far","v":1.51},{"d":"2017-06-08","s":">16 e. far","v":1.69},{"d":"2017-07-07","s":">16 e. far","v":1.65},
{"d":"2017-08-05","s":">16 e. far","v":1.43},{"d":"2017-09-03","s":">16 e. far","v":1.40},{"d":"2017-10-02","s":">16 e. far","v":1.52},{"d":"2017-10-31","s":">16 e. far","v":1.62},{"d":"2017-11-29","s":">16 e. far","v":1.50},{"d":"2017-12-29","s":">16 e. far","v":1.39},{"d":"2018-01-27","s":">16 e. far","v":1.47},{"d":"2018-02-25","s":">16 e. far","v":1.48},{"d":"2018-03-26","s":">16 e. far","v":1.48},{"d":"2018-04-24","s":">16 e. far","v":1.47},
{"d":"2018-05-23","s":">16 e. far","v":1.52},{"d":"2018-06-21","s":">16 e. far","v":1.62},{"d":"2018-07-20","s":">16 e. far","v":1.73},{"d":"2018-08-18","s":">16 e. far","v":1.69},{"d":"2018-09-16","s":">16 e. far","v":1.59},{"d":"2018-10-16","s":">16 e. far","v":1.56},{"d":"2018-11-14","s":">16 e. far","v":1.57},{"d":"2018-12-13","s":">16 e. far","v":1.57},{"d":"2019-01-11","s":">16 e. far","v":1.59},{"d":"2019-02-09","s":">16 e. far","v":1.65},
{"d":"2019-03-10","s":">16 e. far","v":1.60},{"d":"2019-04-08","s":">16 e. far","v":1.54},{"d":"2019-05-07","s":">16 e. far","v":1.56},{"d":"2019-06-05","s":">16 e. far","v":1.55},{"d":"2019-07-04","s":">16 e. far","v":1.53},{"d":"2019-08-03","s":">16 e. far","v":1.69},{"d":"2019-09-01","s":">16 e. far","v":1.85},{"d":"2019-09-30","s":">16 e. far","v":1.87},{"d":"2019-10-29","s":">16 e. far","v":1.78},{"d":"2019-11-27","s":">16 e. far","v":1.86},
{"d":"2019-12-26","s":">16 e. far","v":1.90},{"d":"2020-01-24","s":">16 e. far","v":1.89},{"d":"2020-02-22","s":">16 e. far","v":1.87},{"d":"2020-03-22","s":">16 e. far","v":1.86},{"d":"2020-04-20","s":">16 e. far","v":1.90},{"d":"2020-05-20","s":">16 e. far","v":2.04},{"d":"2020-06-18","s":">16 e. far","v":2.16},{"d":"2020-07-17","s":">16 e. far","v":2.18},{"d":"2020-08-15","s":">16 e. far","v":2.12},{"d":"2020-09-13","s":">16 e. far","v":2.02},
{"d":"2020-10-12","s":">16 e. far","v":1.83},{"d":"2020-11-10","s":">16 e. far","v":1.63},{"d":"2020-12-09","s":">16 e. far","v":1.65},{"d":"2021-01-07","s":">16 e. far","v":1.72},{"d":"2021-02-05","s":">16 e. far","v":1.76},{"d":"2021-03-07","s":">16 e. far","v":1.86},{"d":"2021-04-05","s":">16 e. far","v":2.04},{"d":"2021-05-04","s":">16 e. far","v":2.15},{"d":"2021-06-02","s":">16 e. far","v":2.11},{"d":"2021-07-01","s":">16 e. far","v":2.06}
]
},
"encoding":{
"x":{"field":"d","type":"temporal",
 "scale":{"type":"utc","domain":[{"year":2015,"month":12,"date":17,"utc":true},{"year":2021,"month":7,"date":13,"utc":true}]},
 "axis":{"title":null,"grid":false,"domain":false,"ticks":false,
  "values":[{"year":2016,"month":1,"date":1,"utc":true},{"year":2016,"month":7,"date":1,"utc":true},{"year":2017,"month":1,"date":1,"utc":true},{"year":2017,"month":7,"date":1,"utc":true},{"year":2018,"month":1,"date":1,"utc":true},{"year":2018,"month":7,"date":1,"utc":true},{"year":2019,"month":1,"date":1,"utc":true},{"year":2019,"month":7,"date":1,"utc":true},{"year":2020,"month":1,"date":1,"utc":true},{"year":2020,"month":7,"date":1,"utc":true},{"year":2021,"month":1,"date":1,"utc":true},{"year":2021,"month":7,"date":1,"utc":true}],
  "labelExpr":"utcmonth(datum.value) == 0 ? [utcFormat(datum.value, '%b'), utcFormat(datum.value, '%Y')] : utcFormat(datum.value, '%b')",
  "labelFontSize":40,"labelColor":"#111111","labelPadding":42,"labelLineHeight":40,"labelBaseline":"top","labelFlush":false,"labelOverlap":false,"labelBound":false}},
"y":{"field":"v","type":"quantitative",
 "scale":{"domain":[0,3],"nice":false,"zero":true},
 "axis":{"orient":"right","title":"Sodødelighed (% bidrag)",
  "values":[0,0.5,1,1.5,2,2.5,3],
  "labelExpr":"datum.value % 1 == 0 ? format(datum.value, 'd') : ''",
  "labelFontSize":42,"labelColor":"#111111","labelPadding":14,"labelAlign":"left",
  "domain":true,"domainColor":"#999999","domainWidth":2,
  "tickColor":"#999999","tickWidth":2,
  "tickSize":{"condition":{"test":"datum.value % 1 !== 0","value":9},"value":19},
  "grid":true,
  "gridColor":{"condition":{"test":"datum.value % 1 !== 0","value":"#333333"},"value":"#8c8c8c"},
  "gridWidth":{"condition":{"test":"datum.value % 1 !== 0","value":1.8},"value":2.5},
  "gridDash":{"condition":{"test":"datum.value % 1 !== 0","value":[15,12]},"value":[]},
  "titleFontSize":40,"titleFontWeight":"normal","titleColor":"#111111","titleAngle":270,
  "titleX":134,"titleY":442,"titleAlign":"center","titleBaseline":"middle"}}
},
"layer":[
{"data":{"name":"pts"},
 "mark":{"type":"circle","size":220,"opacity":1},
 "encoding":{"color":{"field":"s","type":"nominal",
  "scale":{"domain":[">16 e. far","0-16 e. far","> 58 e. ins","0-58 e. ins"],"range":["#8B0000","#00008B","#006400","#FF8C00"]},
  "legend":null}}},
{"data":{"name":"ln"},
 "mark":{"type":"line","strokeWidth":8.5,"strokeJoin":"round"},
 "encoding":{"color":{"field":"s","type":"nominal",
  "scale":{"domain":[">16 e. far","0-16 e. far","> 58 e. ins","0-58 e. ins"],"range":["#8B0000","#00008B","#006400","#FF8C00"]},
  "legend":{"title":"Cyklus","orient":"none","legendX":2207,"legendY":324,
   "symbolType":"stroke","symbolStrokeWidth":8,"symbolSize":1156,
   "labelFontSize":37,"labelColor":"#111111","labelOffset":45,
   "titleFontSize":39,"titleFontWeight":"normal","titleColor":"#111111","titleAnchor":"middle","titlePadding":8,
   "strokeColor":"#cccccc","fillColor":"white","padding":8,"rowPadding":5,"labelLimit":400}}}}
]
}
